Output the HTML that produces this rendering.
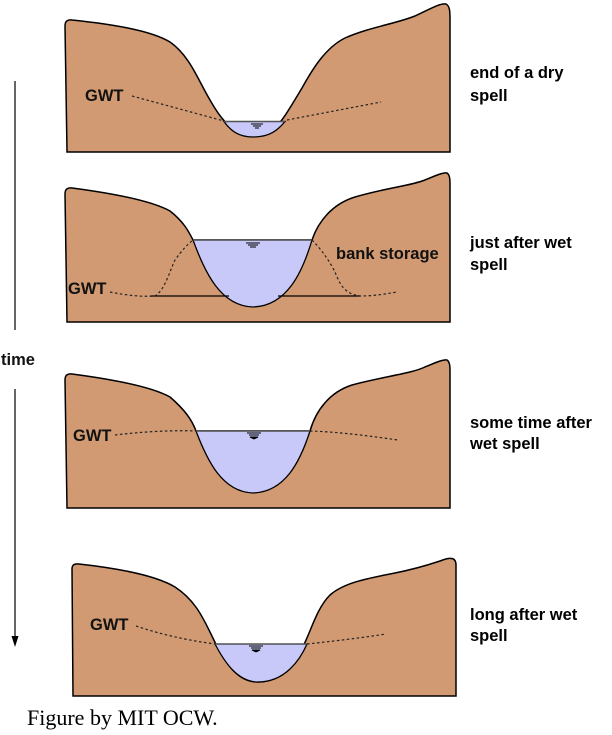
<!DOCTYPE html>
<html><head><meta charset="utf-8"><style>
html,body{margin:0;padding:0;background:#fff;}
svg{display:block;}
.t{font-family:"Liberation Sans",sans-serif;font-weight:bold;font-size:16.5px;fill:#000;}
.g{font-family:"Liberation Sans",sans-serif;font-weight:bold;font-size:16.5px;fill:#111;}
.land{fill:#d19a73;stroke:#000;stroke-width:1.5;}
.wat{fill:#c9c9f9;stroke:#000;stroke-width:1.3;}
.surf{stroke:#555;stroke-width:1.2;}
.dot{fill:none;stroke:#222;stroke-width:1.2;stroke-dasharray:2.5,2.5;}
</style></head><body>
<svg width="612" height="735" viewBox="0 0 612 735" xmlns="http://www.w3.org/2000/svg">
<line x1="15" y1="81" x2="15" y2="330" stroke="#000" stroke-width="1.2"/>
<text x="1" y="365" class="g">time</text>
<line x1="15" y1="389" x2="15" y2="638" stroke="#000" stroke-width="1.2"/>
<polygon points="11.5,636 18.5,636 15,647" fill="#000"/>

<!-- Panel 1 -->
<path class="land" d="M67,152 L65,26 Q65,19 72,20 C110,24 150,30 170,42 C190,56 198,80 210,100 C218,114 224,122 232,128 C242,137 262,139 273,130 C282,122 290,108 302,88 C312,70 325,48 345,38 C370,27 395,24 415,16 C430,9 440,3 446,4 C450,6 450,12 450,20 L450,152 Z"/>
<path class="wat" d="M224,121.5 L285,121.5 C278,130 270,137 253,137 C238,137 230,130 224,121.5 Z"/>
<line class="surf" x1="224" y1="121.5" x2="285" y2="121.5"/>
<g stroke="#000" stroke-width="1"><line x1="251" y1="124" x2="263" y2="124"/><line x1="253" y1="126" x2="261" y2="126"/><line x1="255" y1="128" x2="259" y2="128"/></g>
<path class="dot" d="M132,96 L224,121"/>
<path class="dot" d="M287,120 L381,102"/>
<text x="85" y="101" class="g">GWT</text>
<text x="470" y="78" class="t">end of a dry</text>
<text x="470" y="101" class="t">spell</text>

<!-- Panel 2 -->
<path class="land" d="M67,322 L65,194 Q65,187 72,188 C110,193 150,200 170,211 C184,222 189,232 193,240 L312,240 C318,222 332,204 355,197 C385,188 410,186 425,180 C437,175 444,172 447,173 C450,175 450,180 450,185 L450,322 Z"/>
<path class="wat" d="M193,240 L312,240 C303,270 288,306 253,307 C220,306 205,272 193,240 Z"/>
<line class="surf" x1="193" y1="240" x2="312" y2="240"/>
<g stroke="#000" stroke-width="1"><line x1="246" y1="243" x2="260" y2="243"/><line x1="248" y1="245" x2="258" y2="245"/><line x1="250" y1="247" x2="256" y2="247"/></g>
<line x1="150" y1="296" x2="229" y2="296" stroke="#000" stroke-width="1.2"/>
<line x1="278" y1="296" x2="360" y2="296" stroke="#000" stroke-width="1.2"/>
<path class="dot" d="M110,292 C125,295 140,297 155,296 C165,290 170,270 175,260 C182,250 188,244 193,240"/>
<path class="dot" d="M312,240 C322,250 330,262 335,272 C340,285 345,294 360,296 C375,296 385,294 397,292"/>
<text x="68" y="294" class="g">GWT</text>
<text x="336" y="259" class="g">bank storage</text>
<text x="470" y="248" class="t">just after wet</text>
<text x="470" y="270" class="t">spell</text>

<!-- Panel 3 -->
<path class="land" d="M67,508 L65,380 Q65,373 72,374 C110,379 150,386 170,397 C185,410 192,420 196,431 L310,431 C316,410 330,392 352,385 C385,376 410,374 425,367 C437,362 444,359 447,360 C450,362 450,367 450,372 L450,508 Z"/>
<path class="wat" d="M196,431 L310,431 C300,462 285,492 253,493 C222,492 207,460 196,431 Z"/>
<line class="surf" x1="196" y1="431" x2="310" y2="431"/>
<g stroke="#000" stroke-width="1"><line x1="247" y1="433" x2="261" y2="433"/><line x1="249" y1="435" x2="259" y2="435"/><path d="M250,437 L258,437 L254,439 Z" fill="#000"/></g>
<path class="dot" d="M115,435 C140,432 170,430 196,431"/>
<path class="dot" d="M310,431 C340,432 370,436 398,440"/>
<text x="73" y="441" class="g">GWT</text>
<text x="470" y="428" class="t">some time after</text>
<text x="470" y="449" class="t">wet spell</text>

<!-- Panel 4 -->
<path class="land" d="M73,696 L72,569 Q72,563 79,564 C115,568 155,575 175,587 C195,600 203,618 210,632 C215,642 218,650 225,660 C235,675 245,682 258,682 C275,682 290,668 300,652 C310,636 315,610 330,595 C345,582 370,578 395,573 C415,569 428,565 440,561 C450,557 456,557 456,565 L456,696 Z"/>
<path class="wat" d="M215,644 L307,644 C300,660 285,682 258,682 C238,682 225,663 215,644 Z"/>
<line class="surf" x1="215" y1="644" x2="307" y2="644"/>
<g stroke="#000" stroke-width="1"><line x1="249" y1="646" x2="263" y2="646"/><line x1="251" y1="648" x2="261" y2="648"/><path d="M252,650 L260,650 L256,652 Z" fill="#000"/></g>
<path class="dot" d="M136,626 C160,634 185,640 215,644"/>
<path class="dot" d="M307,644 C335,641 360,638 386,634"/>
<text x="90" y="630" class="g">GWT</text>
<text x="470" y="620" class="t">long after wet</text>
<text x="470" y="641" class="t">spell</text>

<text x="27" y="725" font-family="'Liberation Serif',serif" font-size="22" fill="#000">Figure by MIT OCW.</text>
</svg>
</body></html>
